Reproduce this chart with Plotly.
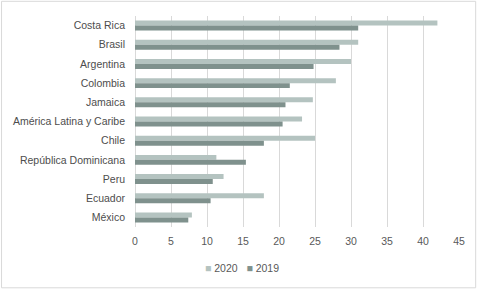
import plotly.graph_objects as go

categories = ["Costa Rica", "Brasil", "Argentina", "Colombia", "Jamaica",
              "América Latina y Caribe", "Chile", "República Dominicana",
              "Peru", "Ecuador", "México"]
values_2020 = [42.0, 31.0, 30.0, 27.9, 24.7, 23.2, 25.0, 11.3, 12.3, 17.9, 7.9]
values_2019 = [31.0, 28.4, 24.8, 21.5, 20.9, 20.5, 17.9, 15.4, 10.8, 10.5, 7.4]
x_ticks = [0, 5, 10, 15, 20, 25, 30, 35, 40, 45]
series_names = ["2020", "2019"]

c2020 = "#b4c3c0"
c2019 = "#7f918d"

fig = go.Figure()
fig.add_trace(go.Bar(name=series_names[0], y=categories, x=values_2020, orientation="h",
                     marker=dict(color=c2020, line=dict(width=0)), showlegend=False))
fig.add_trace(go.Bar(name=series_names[1], y=categories, x=values_2019, orientation="h",
                     marker=dict(color=c2019, line=dict(width=0)), showlegend=False))

L, R, T, B = 134.7, 20.7, 15.7, 62.3
pw = 480 - L - R
ph = 289 - T - B

legend_text = (f'<span style="color:{c2020}">■</span> {series_names[0]}'
               f'   <span style="color:{c2019}">■</span> {series_names[1]}')

fig.update_layout(
    width=480, height=289,
    margin=dict(l=L, r=R, t=T, b=B, autoexpand=False),
    barmode="group", bargap=0.48, bargroupgap=0,
    paper_bgcolor="white", plot_bgcolor="white",
    font=dict(family="Liberation Sans, Arial, sans-serif", size=10.5, color="#595959"),
    xaxis=dict(range=[0, 45], tickvals=x_ticks, showgrid=True, gridcolor="#d9d9d9",
               gridwidth=1, zeroline=True, zerolinecolor="#d9d9d9", zerolinewidth=1,
               showline=False, ticks="", tickfont=dict(size=10.5, color="#595959"),
               automargin=False, ticklabelstandoff=6, fixedrange=True),
    yaxis=dict(autorange="reversed", showgrid=False, ticks="", showline=False,
               tickfont=dict(size=10.5, color="#4d4d4d"), automargin=False,
               ticklabelstandoff=9, fixedrange=True),
    showlegend=False,
    annotations=[dict(text=legend_text, xref="paper", yref="paper",
                      x=(242 - L) / pw, y=(289 - B - 268) / ph,
                      xanchor="center", yanchor="middle", showarrow=False,
                      font=dict(size=10.5, color="#595959"))],
    shapes=[dict(type="rect", xref="paper", yref="paper",
                 x0=(1 - L) / pw, x1=(476 - L) / pw,
                 y0=(289 - B - 287.5) / ph, y1=(289 - B - 1) / ph,
                 line=dict(color="#d9d9d9", width=1), fillcolor="rgba(0,0,0,0)",
                 layer="below")],
)

fig.write_html("out.html", config={"displayModeBar": False},
               post_script="document.body.style.margin='0';document.body.style.overflow='hidden';")
